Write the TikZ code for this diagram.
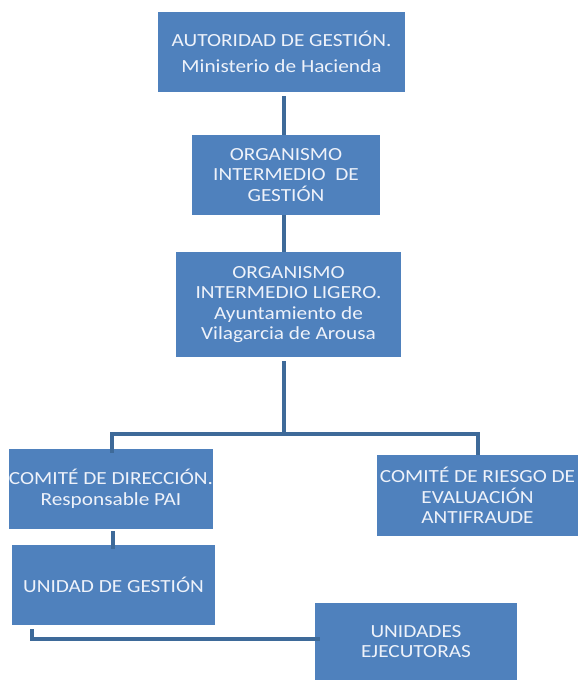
\documentclass[tikz,border=0pt]{standalone}
\usepackage{fontspec}
\setmainfont{Carlito}[FakeStretch=1.15]
\definecolor{boxblue}{RGB}{79,129,189}
\definecolor{lineblue}{RGB}{62,106,153}
\definecolor{boxtext}{RGB}{238,242,250}

\begin{document}
\begin{tikzpicture}[x=1pt, y=-1pt,
    orgbox/.style={fill=boxblue, text=boxtext, inner sep=0pt, align=center,
                   font=\fontsize{18.5pt}{20.5pt}\selectfont},
    link/.style={draw=lineblue, line width=4pt}]
      \useasboundingbox (0,0) rectangle (578,680);
      \node[orgbox, minimum width=247pt, minimum height=80pt]  (gestion)   at (281.5,52)  {AUTORIDAD DE GESTIÓN.\\[5pt]Ministerio de Hacienda};
      \node[orgbox, minimum width=188pt, minimum height=80pt]  (intermedio) at (286,175)  {ORGANISMO\\INTERMEDIO~ DE\\GESTIÓN};
      \node[orgbox, minimum width=225pt, minimum height=105pt] (ligero)    at (288.5,304.5) {ORGANISMO\\INTERMEDIO LIGERO.\\Ayuntamiento de\\Vilagarcia de Arousa};
      \node[orgbox, minimum width=202pt, minimum height=80pt]  (direccion) at (111,489)   {COMITÉ DE DIRECCIÓN.\\Responsable PAI};
      \node[orgbox, minimum width=201pt, minimum height=81pt]  (riesgo)    at (477.5,495.5) {COMITÉ DE RIESGO DE\\EVALUACIÓN\\ANTIFRAUDE};
      \node[orgbox, minimum width=203pt, minimum height=80pt]  (unidad)    at (113.5,585) {UNIDAD DE GESTIÓN};
      \node[orgbox, minimum width=202pt, minimum height=77pt]  (ejecutoras) at (416,641.5) {UNIDADES\\EJECUTORAS};

      \draw[link] ([xshift=2.5pt, yshift=-4pt]gestion.south) -- ([xshift=-2pt]intermedio.north);
      \draw[link] ([xshift=-2pt]intermedio.south) -- ([xshift=-4.5pt]ligero.north);
      \draw[link] ([xshift=-4.5pt, yshift=-4pt]ligero.south) -- ++(0,73) coordinate (split);
      \draw[link] (split) -| ([xshift=1pt, yshift=-4pt]direccion.north);
      \draw[link] (split) -| (riesgo.north);
      \draw[link] ([xshift=2pt, yshift=-2pt]direccion.south) -- ([xshift=-0.5pt, yshift=-4pt]unidad.north);
      \draw[link] ([xshift=20pt, yshift=-4pt]unidad.south west) |- ([yshift=2.5pt, xshift=5pt]ejecutoras.west);
    \end{tikzpicture}
\end{document}
